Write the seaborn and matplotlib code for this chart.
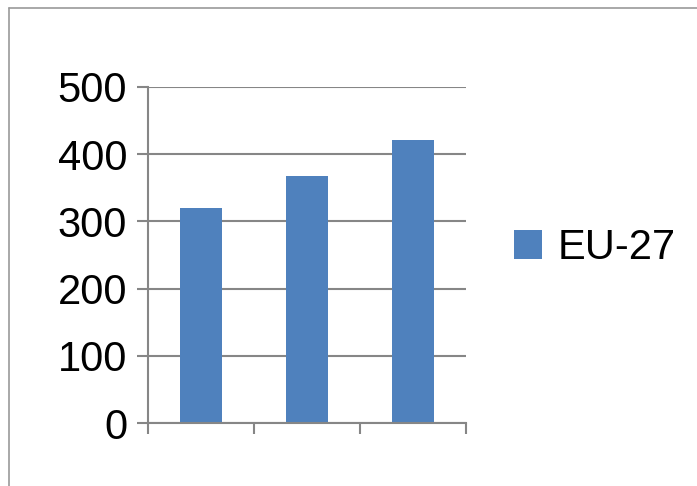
import matplotlib
matplotlib.use("Agg")
import matplotlib.pyplot as plt
import seaborn as sns
import pandas as pd
from matplotlib.lines import Line2D
from matplotlib.patches import Patch

categories = ["1", "2", "3"]
values = [320, 368, 421]
series_name = "EU-27"
yticks = [0, 100, 200, 300, 400, 500]

sns.set_style("white")
plt.rcParams['font.family'] = ['Liberation Sans', 'DejaVu Sans']
plt.rcParams['text.color'] = 'black'

df = pd.DataFrame({"cat": categories, "val": values})
fig = plt.figure(figsize=(6.97, 4.86), dpi=100)
ax = fig.add_axes([148/697, 1-423.3/486, (466-148)/697, (423.3-86.7)/486])

bar_color = "#4f81bd"
grid_color = "#868686"
sns.barplot(data=df, x="cat", y="val", color=bar_color, width=0.405,
            saturation=1, linewidth=0, edgecolor="none", ax=ax, zorder=3)

ax.set_ylim(0, 500)
ax.set_xlim(-0.5, 2.5)
ax.set_yticks(yticks)
ax.set_yticklabels([str(t) for t in yticks])
ax.set_xlabel("")
ax.set_ylabel("")
ax.set_xticks([])
ax.set_xticks([-0.5, 0.5, 1.5, 2.5], minor=True)
ax.tick_params(axis="x", which="minor", direction="out", length=8, width=1.5,
               color=grid_color, bottom=True, labelbottom=False)
ax.tick_params(axis="y", which="major", direction="out", length=8, width=1.5,
               color=grid_color, left=True, labelsize=30, pad=7, labelcolor="black")
ax.yaxis.grid(True, color=grid_color, linewidth=1.5, zorder=0)
ax.set_axisbelow(True)
for s in ["top", "right"]:
    ax.spines[s].set_visible(False)
for s in ["left", "bottom"]:
    ax.spines[s].set_color(grid_color)
    ax.spines[s].set_linewidth(1.5)
    ax.spines[s].set_zorder(4)

handle = Patch(facecolor=bar_color, edgecolor="none")
fig.legend([handle], [series_name], loc="center left",
           bbox_to_anchor=(514/697, 1-248/486), frameon=False, fontsize=30,
           handlelength=0.67, handleheight=0.67, handletextpad=0.38,
           borderpad=0, borderaxespad=0, labelcolor="black")

# outer chart border (top and left visible)
fig.add_artist(Line2D([9/697, 9/697], [0, 1-8.5/486], transform=fig.transFigure,
                      color="#9a9a9a", linewidth=1.2))
fig.add_artist(Line2D([9/697, 1], [1-8.5/486, 1-8.5/486], transform=fig.transFigure,
                      color="#9a9a9a", linewidth=1.2))

fig.savefig("out.png", dpi=100)
